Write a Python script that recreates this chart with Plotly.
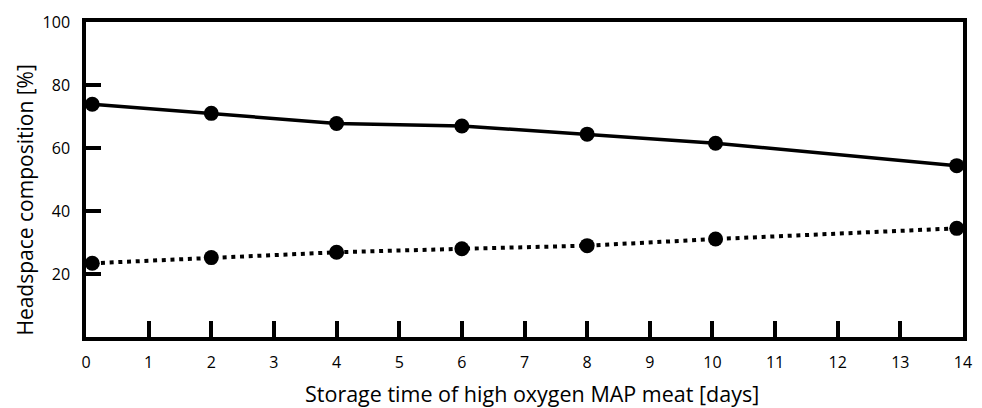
import plotly.graph_objects as go

# Storage time (days) at which headspace was sampled
days = [0.1, 2, 4, 6, 8, 10.05, 13.9]

# Headspace gas composition [%]
oxygen = [73.9, 71.0, 67.8, 67.0, 64.4, 61.5, 54.4]
carbon_dioxide = [23.4, 25.2, 26.9, 28.0, 29.0, 31.1, 34.5]

x_ticks = list(range(0, 15))
y_ticks = [20, 40, 60, 80, 100]

x_title = "Storage time of high oxygen MAP meat [days]"
y_title = "Headspace composition [%]"

FONT = "Open Sans"

fig = go.Figure()

fig.add_trace(go.Scatter(
    x=days, y=oxygen, mode="lines+markers", name="O2",
    line=dict(color="black", width=3.5),
    marker=dict(color="black", size=15),
    cliponaxis=False,
))
fig.add_trace(go.Scatter(
    x=days, y=carbon_dioxide, mode="lines+markers", name="CO2",
    line=dict(color="black", width=4, dash="4px,4.7px"),
    marker=dict(color="black", size=15),
    cliponaxis=False,
))

fig.update_layout(
    width=982, height=408,
    margin=dict(l=86, r=10, t=22, b=71),
    paper_bgcolor="white", plot_bgcolor="white",
    showlegend=False,
    font=dict(family=FONT, color="black"),
    annotations=[
        dict(text=x_title, xref="paper", yref="paper", x=0.508, y=-0.179,
             xanchor="center", yanchor="middle", showarrow=False,
             font=dict(family=FONT, size=21.5, color="black")),
        dict(text=y_title, xref="paper", yref="paper", x=-0.070, y=0.435,
             xanchor="center", yanchor="middle", showarrow=False, textangle=-90,
             font=dict(family=FONT, size=21, color="black")),
    ],
)

fig.update_xaxes(
    range=[0, 14],
    tickvals=x_ticks, ticktext=[str(v) for v in x_ticks],
    ticks="inside", ticklen=16, tickwidth=3.5, tickcolor="black",
    showline=True, linewidth=3.5, linecolor="black", mirror=True,
    showgrid=False, zeroline=False,
    tickfont=dict(family=FONT, size=16, color="black"),
    ticklabelstandoff=8,
)

fig.update_yaxes(
    range=[0, 100],
    tickvals=y_ticks, ticktext=[str(v) for v in y_ticks],
    ticks="inside", ticklen=15, tickwidth=3.5, tickcolor="black",
    showline=True, linewidth=3.5, linecolor="black", mirror=True,
    showgrid=False, zeroline=False,
    tickfont=dict(family=FONT, size=16, color="black"),
    ticklabelstandoff=9,
)

fig.write_html("out.html")
